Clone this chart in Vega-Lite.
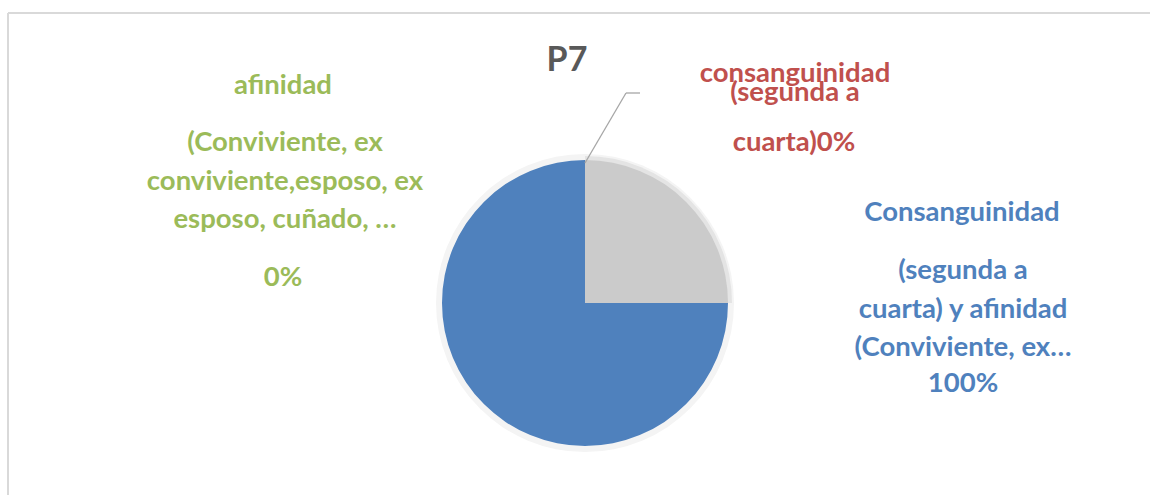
{
  "$schema": "https://vega.github.io/schema/vega-lite/v6.json",
  "width": 1150,
  "height": 495,
  "padding": 0,
  "autosize": {"type": "none"},
  "background": "white",
  "config": {"view": {"stroke": null}, "text": {"font": "Lato", "fontWeight": "bold", "fontSize": 27.5, "align": "center", "baseline": "middle"}},
  "layer": [
    {
      "data": {"values": [{"borde": "superior"}]},
      "mark": {"type": "rule", "color": "#D9D9D9", "strokeWidth": 2},
      "encoding": {
        "x": {"datum": 8, "type": "quantitative", "scale": {"domain": [0, 1150], "nice": false, "zero": false}, "axis": null},
        "x2": {"datum": 1150},
        "y": {"datum": 13, "type": "quantitative", "scale": {"domain": [0, 495], "reverse": true, "nice": false, "zero": false}, "axis": null}
      }
    },
    {
      "data": {"values": [{"borde": "izquierdo"}]},
      "mark": {"type": "rule", "color": "#D9D9D9", "strokeWidth": 2},
      "encoding": {
        "x": {"datum": 8, "type": "quantitative"},
        "y": {"datum": 13, "type": "quantitative"},
        "y2": {"datum": 495}
      }
    },
    {
      "data": {"values": [
        {"categoria": "Otro", "valor": 25, "orden": 1},
        {"categoria": "Consanguinidad (segunda a cuarta) y afinidad (Conviviente, ex…)", "valor": 75, "orden": 2},
        {"categoria": "consanguinidad (segunda a cuarta)", "valor": 0, "orden": 3},
        {"categoria": "afinidad (Conviviente, ex conviviente,esposo, ex esposo, cuñado, …)", "valor": 0, "orden": 4}
      ]},
      "layer": [
        {
          "mark": {"type": "arc", "radius": 149, "color": "#F4F4F4"},
          "encoding": {
            "theta": {"field": "valor", "type": "quantitative", "stack": true},
            "order": {"field": "orden"},
            "x": {"datum": 585, "type": "quantitative"},
            "y": {"datum": 303, "type": "quantitative"}
          }
        },
        {
          "transform": [{"filter": "datum.orden == 1"}],
          "mark": {"type": "arc", "radius": 147, "color": "#E4E4E4"},
          "encoding": {
            "theta": {"field": "valor", "type": "quantitative", "stack": true},
            "x": {"datum": 585, "type": "quantitative"},
            "y": {"datum": 303, "type": "quantitative"}
          }
        },
        {
          "mark": {"type": "arc", "radius": 143},
          "encoding": {
            "theta": {"field": "valor", "type": "quantitative", "stack": true},
            "order": {"field": "orden"},
            "color": {"field": "categoria", "type": "nominal", "legend": null,
              "scale": {"domain": ["Consanguinidad (segunda a cuarta) y afinidad (Conviviente, ex…)", "consanguinidad (segunda a cuarta)", "afinidad (Conviviente, ex conviviente,esposo, ex esposo, cuñado, …)", "Otro"],
                        "range": ["#4F81BD", "#C0504D", "#9BBB59", "#CBCBCB"]}},
            "x": {"datum": 585, "type": "quantitative"},
            "y": {"datum": 303, "type": "quantitative"}
          }
        }
      ]
    },
    {
      "data": {"values": [{"guia": "consanguinidad"}]},
      "mark": {"type": "rule", "color": "#A6A6A6", "strokeWidth": 1.3},
      "encoding": {
        "x": {"datum": 585, "type": "quantitative"},
        "x2": {"datum": 626},
        "y": {"datum": 163, "type": "quantitative"},
        "y2": {"datum": 93}
      }
    },
    {
      "data": {"values": [{"guia": "consanguinidad"}]},
      "mark": {"type": "rule", "color": "#A6A6A6", "strokeWidth": 1.3},
      "encoding": {
        "x": {"datum": 626, "type": "quantitative"},
        "x2": {"datum": 640},
        "y": {"datum": 93, "type": "quantitative"}
      }
    },
    {
      "data": {"values": [{"titulo": "P7"}]},
      "mark": {"type": "text", "fontSize": 34, "color": "#595959"},
      "encoding": {
        "x": {"datum": 567, "type": "quantitative"},
        "y": {"datum": 61, "type": "quantitative"},
        "text": {"field": "titulo"}
      }
    },
    {
      "data": {"values": [{"categoria": "afinidad (Conviviente, ex conviviente,esposo, ex esposo, cuñado, …)", "texto": "afinidad"}]},
      "mark": {"type": "text"},
      "encoding": {"x": {"datum": 283, "type": "quantitative"}, "y": {"datum": 86, "type": "quantitative"}, "text": {"field": "texto"}, "color": {"field": "categoria", "type": "nominal", "legend": null}}
    },
    {
      "data": {"values": [{"categoria": "afinidad (Conviviente, ex conviviente,esposo, ex esposo, cuñado, …)", "texto": ["(Conviviente, ex", "conviviente,esposo, ex", "esposo, cuñado, …"]}]},
      "mark": {"type": "text", "lineHeight": 38.5},
      "encoding": {"x": {"datum": 285, "type": "quantitative"}, "y": {"datum": 143, "type": "quantitative"}, "text": {"field": "texto"}, "color": {"field": "categoria", "type": "nominal", "legend": null}}
    },
    {
      "data": {"values": [{"categoria": "afinidad (Conviviente, ex conviviente,esposo, ex esposo, cuñado, …)", "texto": "0%"}]},
      "mark": {"type": "text"},
      "encoding": {"x": {"datum": 283, "type": "quantitative"}, "y": {"datum": 278, "type": "quantitative"}, "text": {"field": "texto"}, "color": {"field": "categoria", "type": "nominal", "legend": null}}
    },
    {
      "data": {"values": [{"categoria": "consanguinidad (segunda a cuarta)", "texto": ["consanguinidad", "(segunda a"]}]},
      "mark": {"type": "text", "lineHeight": 19},
      "encoding": {"x": {"datum": 795, "type": "quantitative"}, "y": {"datum": 74, "type": "quantitative"}, "text": {"field": "texto"}, "color": {"field": "categoria", "type": "nominal", "legend": null}}
    },
    {
      "data": {"values": [{"categoria": "consanguinidad (segunda a cuarta)", "texto": "cuarta)0%"}]},
      "mark": {"type": "text"},
      "encoding": {"x": {"datum": 794, "type": "quantitative"}, "y": {"datum": 143, "type": "quantitative"}, "text": {"field": "texto"}, "color": {"field": "categoria", "type": "nominal", "legend": null}}
    },
    {
      "data": {"values": [{"categoria": "Consanguinidad (segunda a cuarta) y afinidad (Conviviente, ex…)", "texto": "Consanguinidad"}]},
      "mark": {"type": "text"},
      "encoding": {"x": {"datum": 962, "type": "quantitative"}, "y": {"datum": 213, "type": "quantitative"}, "text": {"field": "texto"}, "color": {"field": "categoria", "type": "nominal", "legend": null}}
    },
    {
      "data": {"values": [{"categoria": "Consanguinidad (segunda a cuarta) y afinidad (Conviviente, ex…)", "texto": ["(segunda a", "cuarta) y afinidad", "(Conviviente, ex…"]}]},
      "mark": {"type": "text", "lineHeight": 38.5},
      "encoding": {"x": {"datum": 963, "type": "quantitative"}, "y": {"datum": 271, "type": "quantitative"}, "text": {"field": "texto"}, "color": {"field": "categoria", "type": "nominal", "legend": null}}
    },
    {
      "data": {"values": [{"categoria": "Consanguinidad (segunda a cuarta) y afinidad (Conviviente, ex…)", "texto": "100%"}]},
      "mark": {"type": "text"},
      "encoding": {"x": {"datum": 963, "type": "quantitative"}, "y": {"datum": 384, "type": "quantitative"}, "text": {"field": "texto"}, "color": {"field": "categoria", "type": "nominal", "legend": null}}
    }
  ]
}
